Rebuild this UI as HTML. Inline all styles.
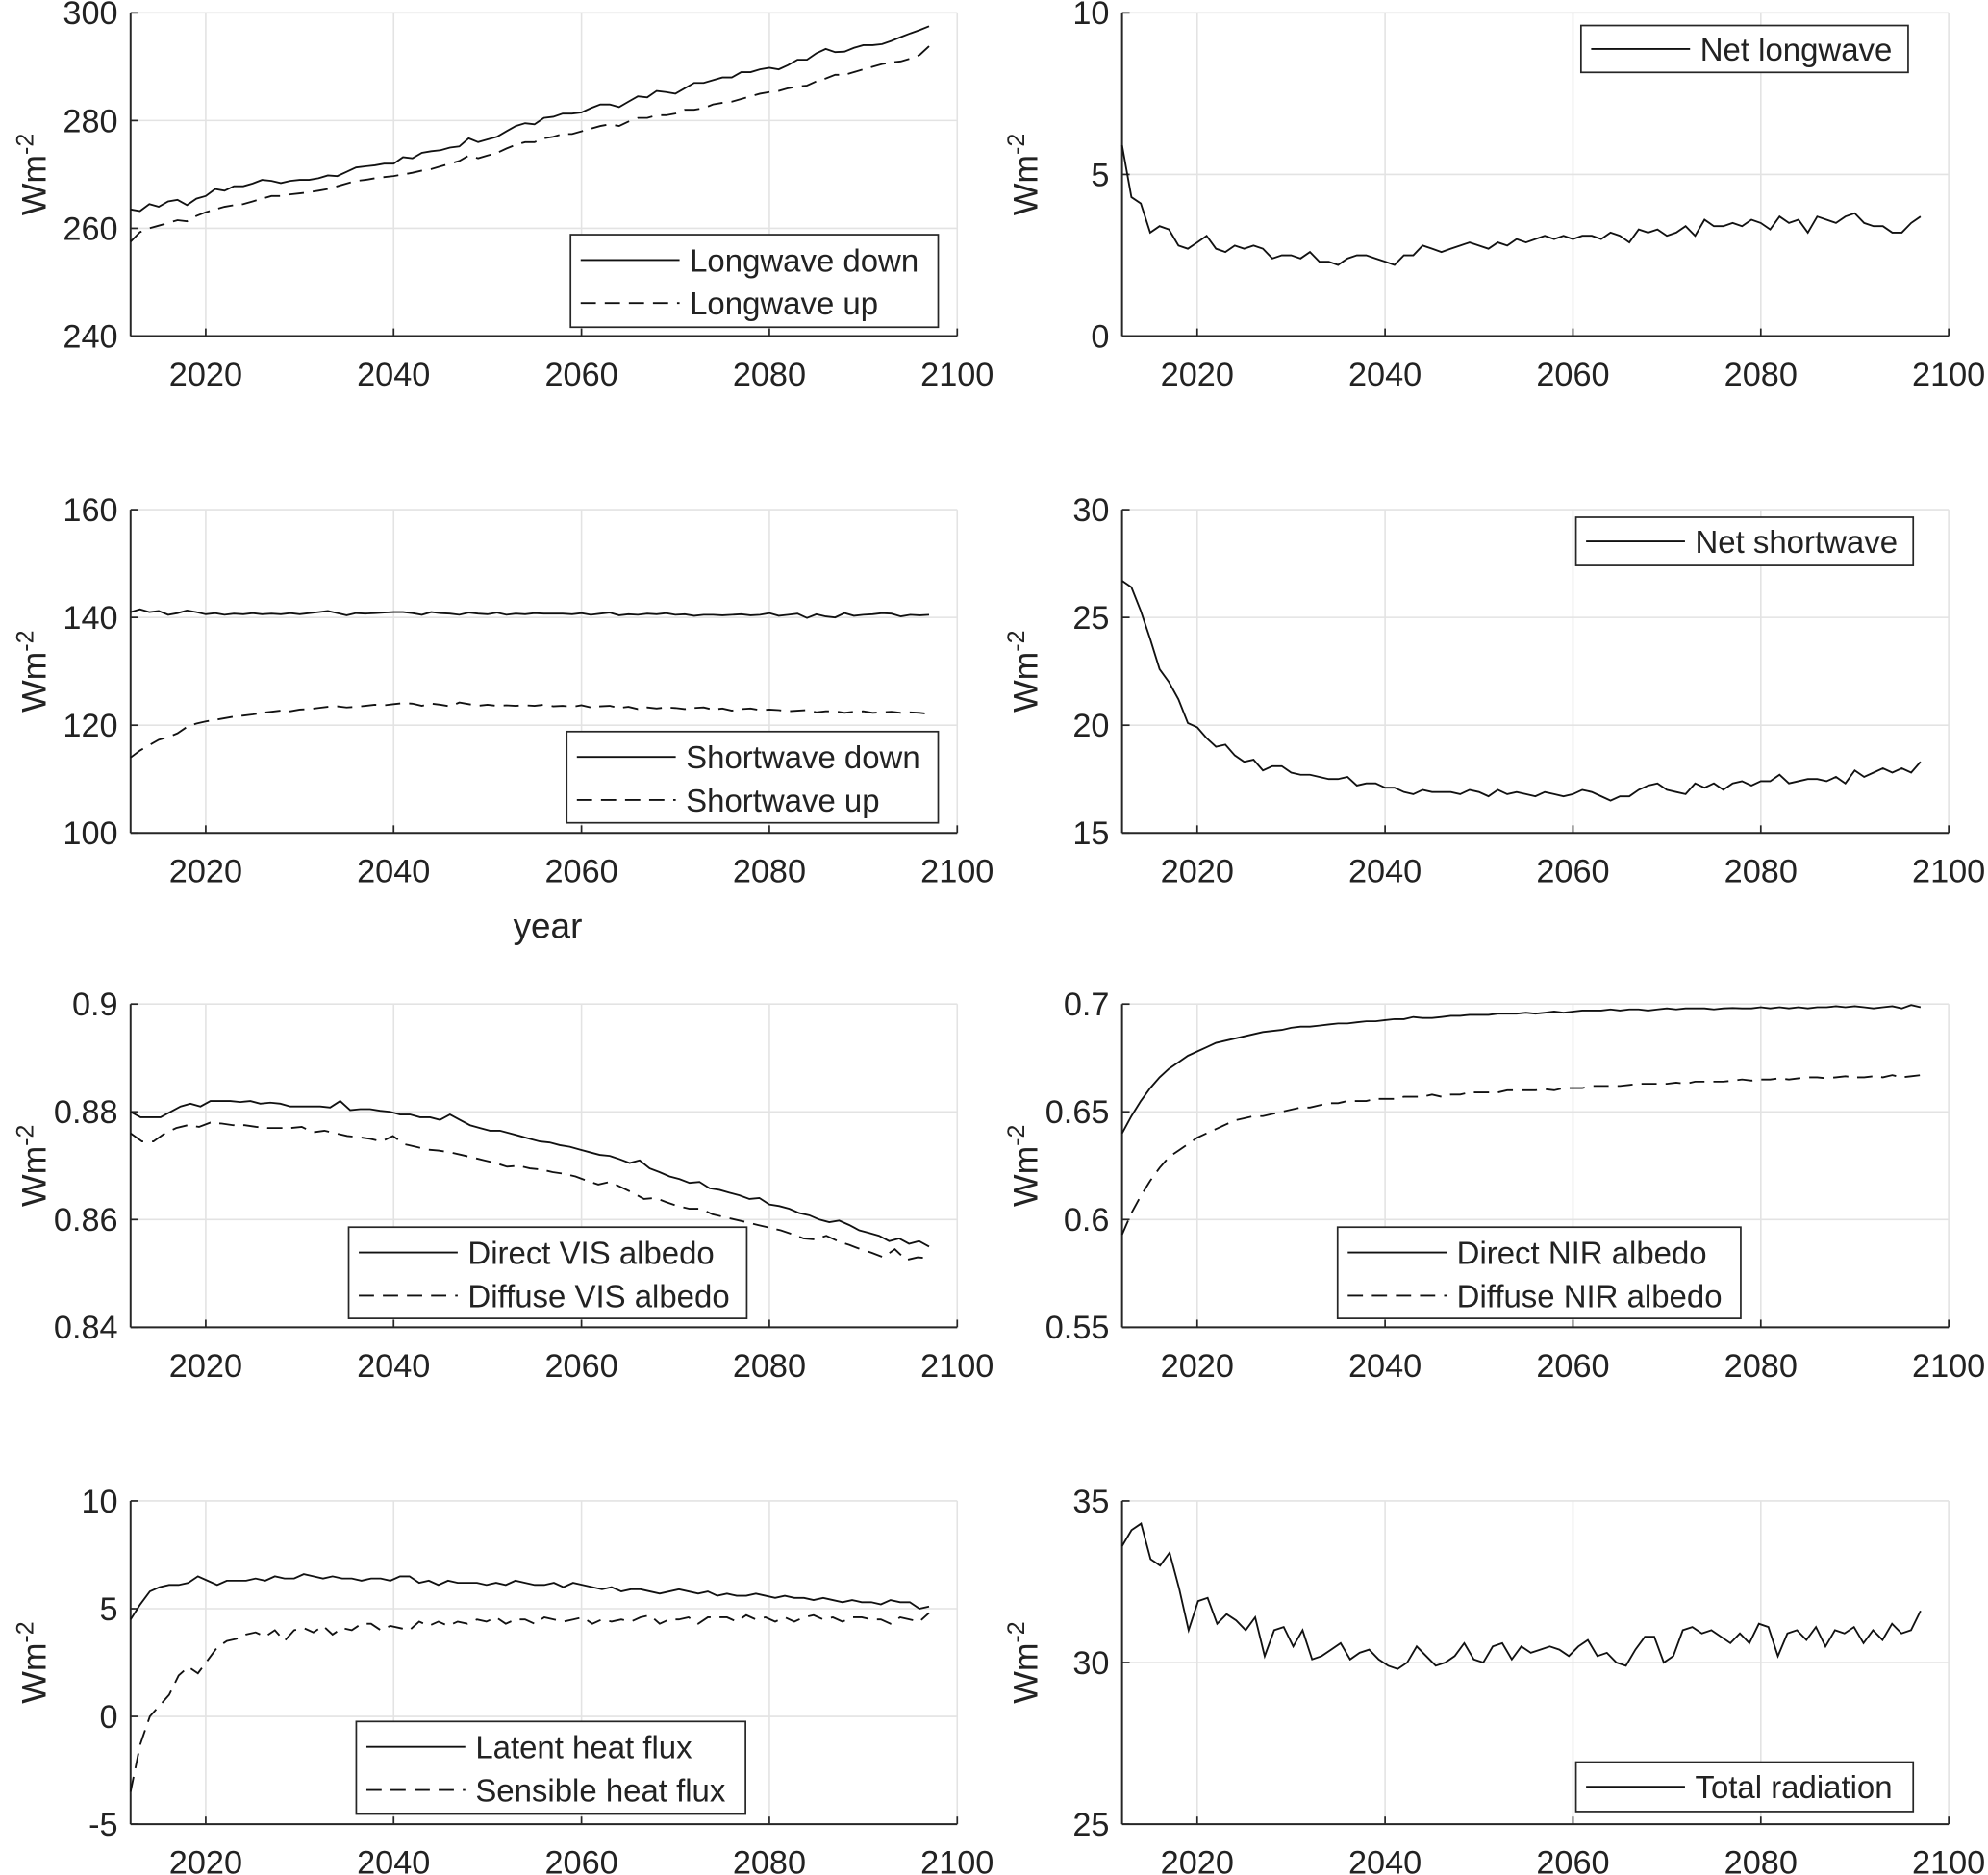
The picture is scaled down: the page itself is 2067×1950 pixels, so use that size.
<!DOCTYPE html>
<html><head><meta charset="utf-8"><style>
html,body{margin:0;padding:0;background:#fff}
svg{display:block}
text{font-family:"Liberation Sans",Arial,sans-serif;fill:#222}
</style></head><body>
<svg id="chart" width="2067" height="1950" viewBox="0 0 1568 1479" xmlns="http://www.w3.org/2000/svg">
<text x="432" y="740" font-size="28" text-anchor="middle">year</text>
</svg>
<script>
const yearStart = 2012;
const yearEnd = 2097;
const lwDown = [263.5,263.2,264.5,264,265,265.3,264.3,265.5,266,267.3,267,267.8,267.8,268.3,269,268.8,268.4,268.8,269,269,269.3,269.8,269.7,270.5,271.3,271.5,271.7,272,272,273.2,273,274,274.3,274.5,275,275.2,276.7,276,276.5,277,278,279,279.5,279.3,280.5,280.7,281.3,281.3,281.5,282.3,283,283,282.5,283.5,284.5,284.3,285.5,285.3,285,286,287,287,287.5,288,288,289,289,289.5,289.8,289.5,290.3,291.3,291.3,292.5,293.3,292.7,292.8,293.5,294,294,294.2,294.8,295.5,296.2,296.8,297.5];
const lwUp = [257.5,259.3,260,260.5,261,261.5,261.3,262.3,263,263.5,264,264.3,264.5,265,265.5,266,266,266.3,266.5,266.7,267,267.3,267.8,268.3,268.8,269,269.3,269.5,269.7,270,270.3,270.7,271,271.5,272,272.5,273.5,273,273.5,274,274.8,275.5,276,276,276.7,277,277.5,277.5,278,278.5,279,279.3,279,279.8,280.5,280.5,281,281,281.3,282,282,282.3,283,283.3,283.5,284,284.5,285,285.3,285.5,286,286.3,286.5,287.3,287.8,288.5,288.5,289,289.5,290,290.5,290.8,291,291.5,292.2,293.8];
const netLw = [5.9,4.3,4.1,3.2,3.4,3.3,2.8,2.7,2.9,3.1,2.7,2.6,2.8,2.7,2.8,2.7,2.4,2.5,2.5,2.4,2.6,2.3,2.3,2.2,2.4,2.5,2.5,2.4,2.3,2.2,2.5,2.5,2.8,2.7,2.6,2.7,2.8,2.9,2.8,2.7,2.9,2.8,3.0,2.9,3.0,3.1,3.0,3.1,3.0,3.1,3.1,3.0,3.2,3.1,2.9,3.3,3.2,3.3,3.1,3.2,3.4,3.1,3.6,3.4,3.4,3.5,3.4,3.6,3.5,3.3,3.7,3.5,3.6,3.2,3.7,3.6,3.5,3.7,3.8,3.5,3.4,3.4,3.2,3.2,3.5,3.7];
const swDown = [141,141.5,141,141.2,140.5,140.8,141.3,141,140.6,140.8,140.5,140.7,140.6,140.8,140.6,140.7,140.6,140.8,140.6,140.8,141,141.2,140.8,140.4,140.8,140.7,140.8,140.9,141,141,140.8,140.5,141,140.8,140.7,140.5,140.9,140.7,140.6,140.9,140.5,140.7,140.6,140.8,140.7,140.7,140.7,140.6,140.8,140.5,140.7,140.9,140.4,140.6,140.5,140.7,140.6,140.8,140.5,140.6,140.3,140.5,140.5,140.4,140.5,140.6,140.4,140.5,140.8,140.3,140.5,140.7,139.9,140.6,140.2,140,140.8,140.3,140.5,140.6,140.8,140.7,140.2,140.5,140.4,140.5];
const swUp = [114,115.3,116.3,117.3,117.8,118.5,119.7,120.3,120.7,121,121.3,121.6,121.8,122,122.3,122.5,122.7,122.6,122.9,123,123.2,123.4,123.5,123.3,123.4,123.6,123.8,123.7,123.9,124.1,124,123.6,124,123.8,123.5,124.2,123.9,123.6,123.8,123.6,123.7,123.6,123.7,123.6,123.8,123.5,123.6,123.4,123.7,123.3,123.5,123.6,123.2,123.4,123,123.3,123.1,123.3,123.2,123,123.2,123.3,122.9,123.1,122.7,123,123.1,122.8,122.9,122.8,122.6,122.7,122.8,122.4,122.6,122.6,122.3,122.5,122.6,122.3,122.4,122.5,122.3,122.4,122.3,122.1];
const netSw = [26.7,26.4,25.3,24.0,22.6,22.0,21.2,20.1,19.9,19.4,19.0,19.1,18.6,18.3,18.4,17.9,18.1,18.1,17.8,17.7,17.7,17.6,17.5,17.5,17.6,17.2,17.3,17.3,17.1,17.1,16.9,16.8,17.0,16.9,16.9,16.9,16.8,17.0,16.9,16.7,17.0,16.8,16.9,16.8,16.7,16.9,16.8,16.7,16.8,17.0,16.9,16.7,16.5,16.7,16.7,17.0,17.2,17.3,17.0,16.9,16.8,17.3,17.1,17.3,17.0,17.3,17.4,17.2,17.4,17.4,17.7,17.3,17.4,17.5,17.5,17.4,17.6,17.3,17.9,17.6,17.8,18.0,17.8,18.0,17.8,18.3];
const visDirect = [0.880,0.879,0.879,0.879,0.880,0.881,0.8815,0.881,0.882,0.882,0.882,0.8818,0.882,0.8815,0.8817,0.8815,0.881,0.881,0.881,0.881,0.8808,0.882,0.8803,0.8805,0.8805,0.8802,0.88,0.8795,0.8795,0.879,0.879,0.8785,0.8795,0.8785,0.8775,0.877,0.8765,0.8765,0.876,0.8755,0.875,0.8745,0.8743,0.8738,0.8735,0.873,0.8725,0.872,0.8718,0.8712,0.8705,0.871,0.8695,0.8688,0.868,0.8675,0.8668,0.867,0.8658,0.8655,0.865,0.8645,0.8638,0.864,0.8628,0.8625,0.862,0.8612,0.8608,0.86,0.8595,0.8598,0.859,0.858,0.8575,0.857,0.856,0.8565,0.8555,0.856,0.855];
const visDiffuse = [0.876,0.8745,0.8745,0.876,0.877,0.8775,0.8772,0.878,0.8778,0.8775,0.8775,0.8772,0.877,0.877,0.877,0.8772,0.8762,0.8765,0.876,0.8755,0.8753,0.875,0.8745,0.8755,0.874,0.8735,0.873,0.8728,0.8725,0.872,0.8715,0.871,0.8705,0.8698,0.87,0.8695,0.8693,0.8688,0.8685,0.868,0.8672,0.8665,0.867,0.866,0.865,0.8638,0.864,0.8632,0.8625,0.862,0.862,0.861,0.8605,0.86,0.8595,0.859,0.8585,0.858,0.8573,0.8565,0.8563,0.857,0.856,0.8553,0.8545,0.8538,0.853,0.8545,0.8525,0.853,0.8528];
const nirDirect = [0.64,0.648,0.655,0.661,0.666,0.67,0.673,0.676,0.678,0.68,0.682,0.683,0.684,0.685,0.686,0.687,0.6875,0.688,0.689,0.6895,0.6895,0.690,0.6905,0.691,0.691,0.6915,0.692,0.692,0.6925,0.693,0.693,0.694,0.6935,0.6935,0.694,0.6945,0.6945,0.695,0.695,0.695,0.6955,0.6955,0.6955,0.696,0.6955,0.696,0.6965,0.696,0.6965,0.697,0.697,0.697,0.6975,0.697,0.6975,0.6975,0.697,0.6975,0.698,0.6975,0.698,0.698,0.698,0.6975,0.698,0.6982,0.698,0.698,0.6985,0.698,0.6985,0.698,0.6985,0.698,0.6985,0.6985,0.699,0.6985,0.699,0.6985,0.698,0.6985,0.699,0.698,0.6995,0.6985];
const nirDiffuse = [0.593,0.603,0.611,0.618,0.624,0.629,0.632,0.635,0.638,0.64,0.642,0.644,0.646,0.647,0.648,0.648,0.649,0.65,0.651,0.652,0.652,0.653,0.654,0.654,0.655,0.655,0.655,0.656,0.656,0.656,0.657,0.657,0.657,0.658,0.657,0.658,0.658,0.659,0.659,0.659,0.659,0.66,0.66,0.66,0.66,0.6605,0.66,0.661,0.661,0.661,0.662,0.662,0.662,0.662,0.6625,0.663,0.663,0.663,0.663,0.6635,0.663,0.664,0.664,0.664,0.664,0.6645,0.665,0.6645,0.665,0.665,0.6655,0.665,0.6655,0.666,0.666,0.6655,0.666,0.6665,0.666,0.666,0.6665,0.666,0.667,0.666,0.6665,0.667];
const latent = [4.5,5.2,5.8,6.0,6.1,6.1,6.2,6.5,6.3,6.1,6.3,6.3,6.3,6.4,6.3,6.5,6.4,6.4,6.6,6.5,6.4,6.5,6.4,6.4,6.3,6.4,6.4,6.3,6.5,6.5,6.2,6.3,6.1,6.3,6.2,6.2,6.2,6.1,6.2,6.1,6.3,6.2,6.1,6.1,6.2,6.0,6.2,6.1,6.0,5.9,6.0,5.8,5.9,5.9,5.8,5.7,5.8,5.9,5.8,5.7,5.8,5.6,5.7,5.6,5.6,5.7,5.6,5.5,5.6,5.5,5.5,5.4,5.5,5.4,5.3,5.4,5.3,5.3,5.2,5.4,5.3,5.3,5.0,5.1];
const sensible = [-3.5,-1.3,0,0.5,1.0,1.9,2.3,2.0,2.6,3.2,3.5,3.6,3.8,3.9,3.7,4.0,3.5,4.0,4.1,3.9,4.2,3.8,4.1,4.0,4.3,4.3,4.0,4.2,4.1,4.0,4.4,4.2,4.4,4.2,4.4,4.3,4.5,4.4,4.6,4.3,4.5,4.5,4.3,4.6,4.5,4.4,4.5,4.6,4.3,4.5,4.4,4.5,4.4,4.6,4.7,4.3,4.5,4.5,4.6,4.3,4.6,4.6,4.6,4.4,4.7,4.5,4.6,4.4,4.6,4.4,4.6,4.7,4.5,4.6,4.4,4.6,4.6,4.5,4.5,4.3,4.6,4.5,4.4,4.8];
const totalRad = [33.6,34.1,34.3,33.2,33.0,33.4,32.3,31.0,31.9,32.0,31.2,31.5,31.3,31.0,31.4,30.2,31.0,31.1,30.5,31.0,30.1,30.2,30.4,30.6,30.1,30.3,30.4,30.1,29.9,29.8,30.0,30.5,30.2,29.9,30.0,30.2,30.6,30.1,30.0,30.5,30.6,30.1,30.5,30.3,30.4,30.5,30.4,30.2,30.5,30.7,30.2,30.3,30.0,29.9,30.4,30.8,30.8,30.0,30.2,31.0,31.1,30.9,31.0,30.8,30.6,30.9,30.6,31.2,31.1,30.2,30.9,31.0,30.7,31.1,30.5,31.0,30.9,31.1,30.6,31.0,30.7,31.2,30.9,31.0,31.6];
const xTicks = [2020,2040,2060,2080,2100];
const yTicks1 = [240,260,280,300];
const yTicks2 = [0,5,10];
const yTicks3 = [100,120,140,160];
const yTicks4 = [15,20,25,30];
const yTicks5 = [0.84,0.86,0.88,0.9];
const yTicks6 = [0.55,0.6,0.65,0.7];
const yTicks7 = [-5,0,5,10];
const yTicks8 = [25,30,35];
const yLabels5 = ["0.84","0.86","0.88","0.9"];
const yLabels6 = ["0.55","0.6","0.65","0.7"];

const NS = "http://www.w3.org/2000/svg";
const svg = document.getElementById('chart');
function mk(tag, attrs, parent){const e=document.createElementNS(NS,tag);for(const k in attrs)e.setAttribute(k,attrs[k]);(parent||svg).appendChild(e);return e;}

function panel(id, L, T, yT, yLab, series, legend){
  const R=L+652, B=T+255, xmin=2012, xmax=2100, ymin=yT[0], ymax=yT[yT.length-1];
  const g=mk('g',{});
  
  
  const sx=v=>L+(v-xmin)/(xmax-xmin)*(R-L);
  const sy=v=>B-(v-ymin)/(ymax-ymin)*(B-T);
  xTicks.forEach(t=>{
    const gl=mk('line',{x1:sx(t),x2:sx(t),y1:T,y2:B,stroke:'#e3e3e3','stroke-width':1.2},g);
    
    
    mk('line',{x1:sx(t),x2:sx(t),y1:B,y2:B-6,stroke:'#262626','stroke-width':1.3},g);
    const tx=mk('text',{x:sx(t),y:B+39,'font-size':26,'text-anchor':'middle'},g);
    tx.textContent=t;
    
    
  });
  yT.forEach((t,i)=>{
    const gl=mk('line',{x1:L,x2:R,y1:sy(t),y2:sy(t),stroke:'#e3e3e3','stroke-width':1.2},g);
    
    
    mk('line',{x1:L,x2:L+6,y1:sy(t),y2:sy(t),stroke:'#262626','stroke-width':1.3},g);
    const tx=mk('text',{x:L-10,y:sy(t)+9,'font-size':26,'text-anchor':'end'},g);
    tx.textContent=yLab?yLab[i]:t;
    
    
  });
  mk('line',{x1:L,x2:L,y1:T,y2:B,stroke:'#262626','stroke-width':1.5},g);
  mk('line',{x1:L,x2:R,y1:B,y2:B,stroke:'#262626','stroke-width':1.5},g);
  const yl=mk('text',{x:0,y:0,'font-size':27,'text-anchor':'middle',transform:`translate(${L-67},${(T+B)/2}) rotate(-90)`},g);
  yl.innerHTML='Wm<tspan dy="-10" font-size="19">-2</tspan>';
  
  
  series.forEach(s=>{
    const n=s.data.length;
    const pts=s.data.map((v,i)=>sx(yearStart+i*(yearEnd-yearStart)/(n-1)).toFixed(1)+','+sy(v).toFixed(1)).join(' ');
    const p=mk('polyline',{points:pts,fill:'none',stroke:'#111','stroke-width':1.4,'stroke-dasharray':s.dash?'12 7':'none'},g);
    
    
  });
  const lg=mk('g',{},g);
  
  
  mk('rect',{x:legend.x,y:legend.y,width:legend.w,height:legend.h,fill:'#fff',stroke:'#262626','stroke-width':1.3},lg);
  series.forEach((s,i)=>{
    const cy=legend.y+(series.length===1?legend.h/2:20+i*34);
    mk('line',{x1:legend.x+8,x2:legend.x+86,y1:cy,y2:cy,stroke:'#111','stroke-width':1.4,'stroke-dasharray':s.dash?'12 7':'none'},lg);
    const t=mk('text',{x:legend.x+94,y:cy+9,'font-size':25},lg);
    t.textContent=s.label;
    
    
  });
}
panel('longwave-panel',103,10,yTicks1,null,[{data:lwDown,label:'Longwave down',name:'longwave-down-line'},{data:lwUp,dash:1,label:'Longwave up',name:'longwave-up-line'}],{x:450,y:185,w:290,h:73});
panel('net-longwave-panel',885,10,yTicks2,null,[{data:netLw,label:'Net longwave',name:'net-longwave-line'}],{x:1247,y:20,w:258,h:37});
panel('shortwave-panel',103,402,yTicks3,null,[{data:swDown,label:'Shortwave down',name:'shortwave-down-line'},{data:swUp,dash:1,label:'Shortwave up',name:'shortwave-up-line'}],{x:447,y:577,w:293,h:72});
panel('net-shortwave-panel',885,402,yTicks4,null,[{data:netSw,label:'Net shortwave',name:'net-shortwave-line'}],{x:1243,y:408,w:266,h:38});
panel('vis-albedo-panel',103,792,yTicks5,yLabels5,[{data:visDirect,label:'Direct VIS albedo',name:'direct-vis-albedo-line'},{data:visDiffuse,dash:1,label:'Diffuse VIS albedo',name:'diffuse-vis-albedo-line'}],{x:275,y:968,w:314,h:72});
panel('nir-albedo-panel',885,792,yTicks6,yLabels6,[{data:nirDirect,label:'Direct NIR albedo',name:'direct-nir-albedo-line'},{data:nirDiffuse,dash:1,label:'Diffuse NIR albedo',name:'diffuse-nir-albedo-line'}],{x:1055,y:968,w:318,h:72});
panel('heat-flux-panel',103,1184,yTicks7,null,[{data:latent,label:'Latent heat flux',name:'latent-heat-line'},{data:sensible,dash:1,label:'Sensible heat flux',name:'sensible-heat-line'}],{x:281,y:1358,w:307,h:73});
panel('total-radiation-panel',885,1184,yTicks8,null,[{data:totalRad,label:'Total radiation',name:'total-radiation-line'}],{x:1243,y:1390,w:266,h:39});
</script>
</body></html>
